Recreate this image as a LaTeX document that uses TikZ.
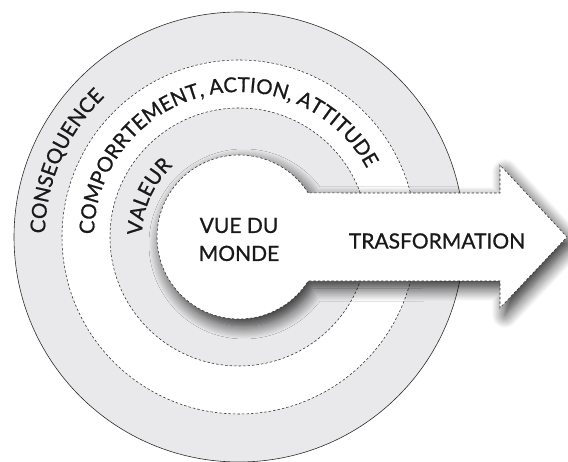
\documentclass[tikz,border=0pt]{standalone}
\usepackage{fontspec}
\setmainfont{Lato}[FakeBold=0.8]
\usetikzlibrary{decorations.text,shadows.blur}
\definecolor{ringgray}{RGB}{233,233,235}
\definecolor{linegray}{RGB}{45,45,45}

\begin{document}
\begin{tikzpicture}[x=1pt, y=1pt,
     outer/.style = {draw=linegray, line width=0.6pt, fill=ringgray},
      ring/.style = {draw=linegray, line width=0.55pt, dash pattern=on 2.5pt off 2pt},
     curve/.style = {decorate, decoration={text along path,
                     text={|\fontsize{20.5}{20.5}\selectfont\color{black!90}|#1}}},
       lbl/.style = {font=\fontsize{21}{28}\selectfont, align=center, text=black!90}
                    ]
\useasboundingbox (0,0) rectangle (568,462);
\coordinate (c) at (239,225);

% rings
\filldraw[outer] (c) circle[radius=225pt];
\filldraw[ring, fill=white] (c) circle[radius=177pt];
\filldraw[ring, fill=ringgray] (c) circle[radius=129pt];

% curved labels
\path[curve=CONSEQUENCE] ([shift={(179:194)}]c) arc[start angle=179, end angle=0, radius=194pt];
\path[curve={COMPORRTEMENT, ACTION, ATTITUDE}] ([shift={(179:145)}]c) arc[start angle=179, end angle=0, radius=145pt];
\path[curve=VALEUR] ([shift={(179:97)}]c) arc[start angle=179, end angle=0, radius=97pt];

% core and arrow
\filldraw[ring, fill=white,
          blur shadow={shadow xshift=5pt, shadow yshift=-7pt, shadow blur radius=13pt,
                       shadow blur steps=12, shadow opacity=85}]
    ([shift={(32.47:82)}]c) arc[start angle=32.47, end angle=327.53, radius=82pt]
    -- (500,181) -- (500,154) -- (567,225) -- (500,297) -- (500,269) -- cycle;

\node[lbl] (world) at (239,222.5) {VUE DU\\MONDE};
\node[lbl] (trans) at (437,221) {TRASFORMATION};
\end{tikzpicture}
\end{document}
